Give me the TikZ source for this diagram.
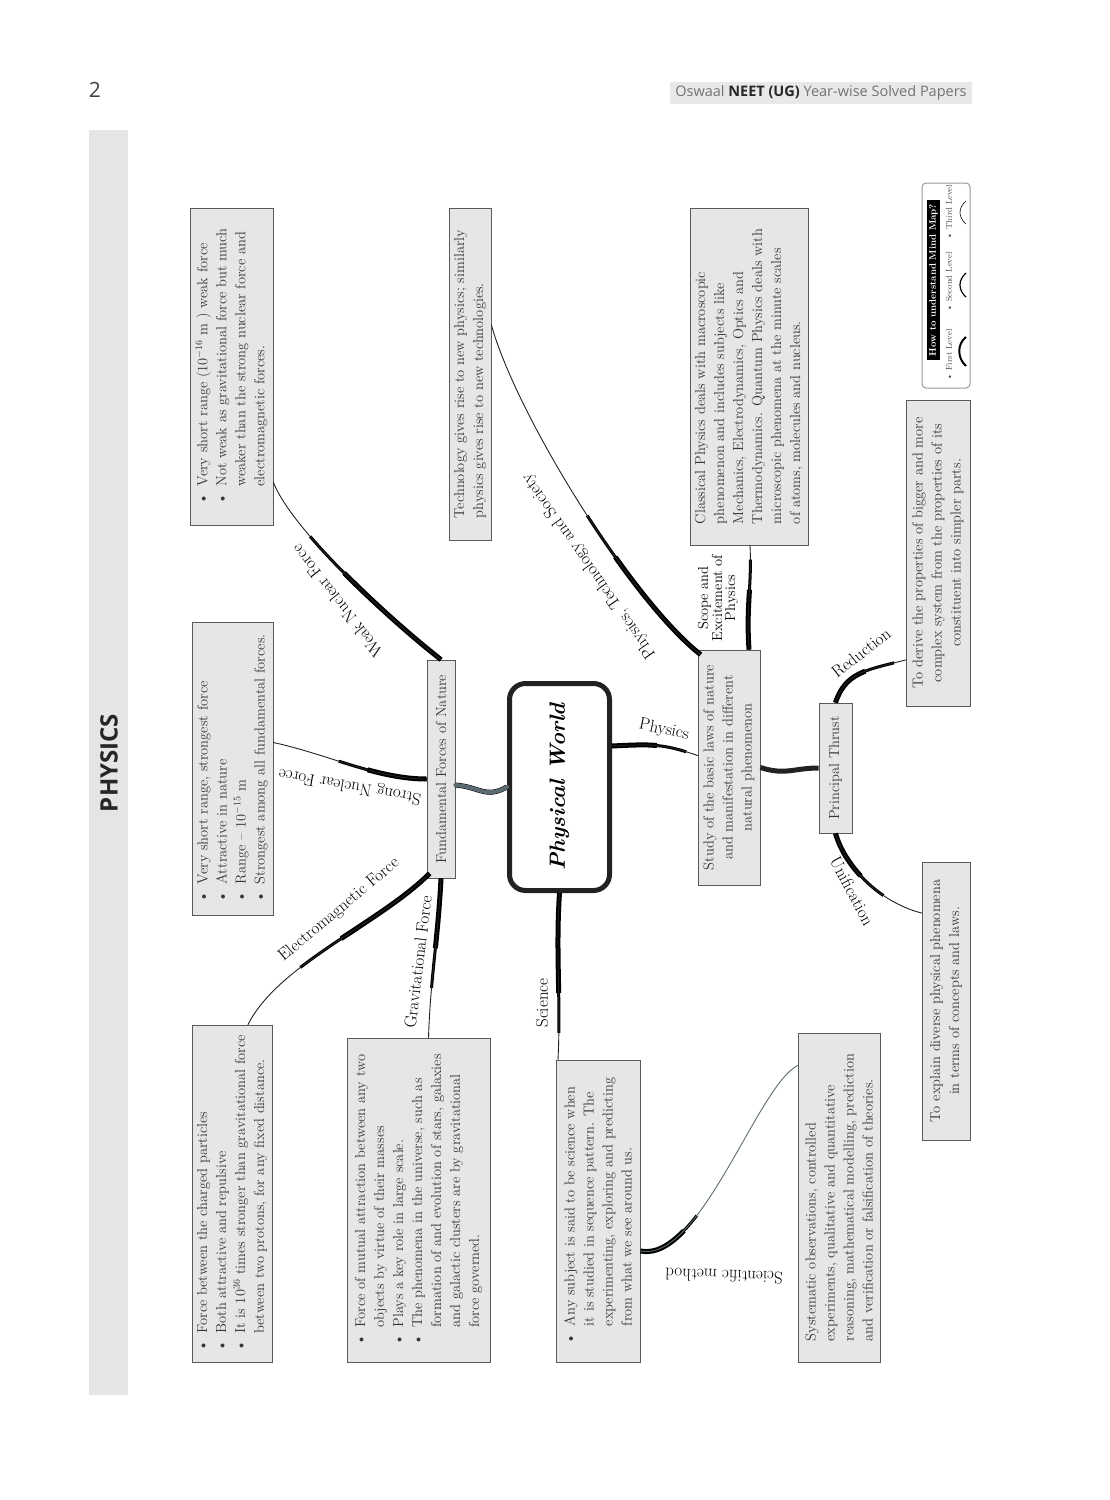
\documentclass[tikz,border=0pt]{standalone}
\usepackage{fontspec}
\usepackage{tikz}
\usetikzlibrary{calc}

\newfontfamily\hdrfont{Open Sans}
\definecolor{boxgray}{HTML}{E6E6E6}
\definecolor{edgegray}{HTML}{5A5A5A}
\definecolor{inkgray}{HTML}{363636}
\definecolor{slate}{HTML}{5B6B72}
\definecolor{branch}{HTML}{222222}
\newcommand{\boxfont}{\fontsize{14.5}{19}\selectfont}
\newcommand{\lblfont}{\fontsize{17}{19}\selectfont}
\newcommand{\itm}{\textbullet\enspace}
\newcommand{\itmind}{\hphantom{\textbullet\enspace}}

\tikzset{
  leaf/.style={draw=edgegray, fill=boxgray, text=inkgray, rotate=90, font=\boxfont,
    line width=0.8pt, inner xsep=5pt, inner ysep=2pt, align=left},
  tag/.style={font=\lblfont, inner sep=1pt},
  limb/.style 2 args={line width=0.9pt, line cap=round,
    preaction={draw, line width=5pt, dash pattern=on #1 off 3000pt},
    preaction={draw, line width=3pt, dash pattern=on #2 off 3000pt}},
}

\begin{document}
\begin{tikzpicture}[x=1pt, y=-1pt]
    \useasboundingbox (0,0) rectangle (1109,1500);

    % page furniture
    \node[font=\hdrfont\fontsize{21}{24}\selectfont, text=black!75] (pageno) at (95,90) {2};
    \node[fill=black!9, font=\hdrfont\fontsize{14.5}{17}\selectfont, text=black!55,
          minimum width=302pt, minimum height=22pt, inner sep=0pt] (runhead) at (821,93)
          {Oswaal \textcolor{black!85}{\bfseries NEET (UG)} Year-wise Solved Papers};
    \fill[black!10] (89,130) rectangle (128,1395);
    \node[rotate=90, font=\hdrfont\bfseries\fontsize{24}{27}\selectfont, text=black!85] (subject) at (109,763) {PHYSICS};

    % legend
    \node[draw=black!40, line width=1pt, rounded corners=4pt, fill=white,
          minimum width=48pt, minimum height=205pt, inner sep=0pt] (legend) at (946,285.5) {};
    \node[rotate=90, fill=black, text=white, font=\bfseries\fontsize{9.5}{11}\selectfont,
          minimum width=160pt, minimum height=13pt, inner sep=1pt] (legendhead) at (933.5,280) {How to understand Mind Map?};
    \node[rotate=90, font=\fontsize{8.5}{10}\selectfont, text=black!70] (lvlone) at (949,355) {\textbullet\ First Level};
    \node[rotate=90, font=\fontsize{8.5}{10}\selectfont, text=black!70] (lvltwo) at (949,282) {\textbullet\ Second Level};
    \node[rotate=90, font=\fontsize{8.5}{10}\selectfont, text=black!70] (lvlthree) at (949,212) {\textbullet\ Third Level};
    \draw[line width=2pt] (966,366) .. controls (957,358) and (957,344) .. (966,337);
    \draw[line width=1.2pt] (966,297) .. controls (958,290) and (958,280) .. (966,273);
    \draw[line width=0.6pt] (966,224) .. controls (958,217) and (958,208) .. (966,201);

    % centre and second level
    \node[rotate=90, draw=branch, line width=5pt, rounded corners=16pt, fill=white,
          minimum width=207pt, minimum height=100pt,
          font=\bfseries\itshape\fontsize{22}{26}\selectfont] (world) at (559.5,787) {Physical World};
    \node[leaf, minimum width=218pt, minimum height=28pt, inner ysep=0pt] (forces) at (441,769) {Fundamental Forces of Nature};
    \node[leaf, align=center, minimum width=235pt, minimum height=62pt] (study) at (729,767.5)
        {Study of the basic laws of nature\\and manifestation in different\\natural phenomenon};
    \node[leaf, minimum width=130pt, minimum height=33pt] (thrust) at (835.5,768) {Principal Thrust};

    % leaves
    \node[leaf, minimum width=317pt, minimum height=83pt] (weak) at (231.5,366.5)
        {\itm Very short range ($10^{-16}$ m ) weak force\\
         \itm Not weak as gravitational force but much\\
         \itmind weaker than the strong nuclear force and\\
         \itmind electromagnetic forces.};
    \node[leaf, minimum width=293pt, minimum height=81pt] (strong) at (232.5,768.5)
        {\itm Very short range, strongest force\\
         \itm Attractive in nature\\
         \itm Range -- $10^{-15}$ m\\
         \itm Strongest among all fundamental forces.};
    \node[leaf, minimum width=337pt, minimum height=80pt] (em) at (232,1193.5)
        {\itm Force between the charged particles\\
         \itm Both attractive and repulsive\\
         \itm It is $10^{36}$ times stronger than gravitational force\\
         \itmind between two protons, for any fixed distance.};
    \node[leaf, minimum width=324pt, minimum height=143pt] (grav) at (418.5,1200)
        {\itm Force of mutual attraction between any two\\
         \itmind objects by virtue of their masses\\
         \itm Plays a key role in large scale.\\
         \itm The phenomena in the universe, such as\\
         \itmind formation of and evolution of stars, galaxies\\
         \itmind and galactic clusters are by gravitational\\
         \itmind force governed.};
    \node[leaf, minimum width=302pt, minimum height=84pt] (science) at (598,1211)
        {\itm Any subject is said to be science when\\
         \itmind it is studied in sequence pattern. The\\
         \itmind experimenting, exploring and predicting\\
         \itmind from what we see around us.};
    \node[leaf, minimum width=329pt, minimum height=82pt] (method) at (839,1197.5)
        {Systematic observations, controlled\\
         experiments, qualitative and quantitative\\
         reasoning, mathematical modelling, prediction\\
         and verification or falsification of theories.};
    \node[leaf, minimum width=332pt, minimum height=42pt] (tech) at (470,374)
        {Technology gives rise to new physics; similarly\\
         physics gives rise to new technologies.};
    \node[leaf, minimum width=337pt, minimum height=118pt] (scope) at (749,376.5)
        {Classical Physics deals with macroscopic\\
         phenomenon and includes subjects like\\
         Mechanics, Electrodynamics, Optics and\\
         Thermodynamics. Quantum Physics deals with\\
         microscopic phenomena at the minute scales\\
         of atoms, molecules and nucleus.};
    \node[leaf, align=center, minimum width=306pt, minimum height=64pt] (reduce) at (938,553)
        {To derive the properties of bigger and more\\
         complex system from the properties of its\\
         constituent into simpler parts.};
    \node[leaf, align=center, minimum width=278pt, minimum height=48pt] (unify) at (946,1001)
        {To explain diverse physical phenomena\\
         in terms of concepts and laws.};

    % branches from the centre
    \draw[slate, limb={60pt}{60pt}, line width=4pt] (world.north) .. controls +(-22,12) and +(25,2) .. ($(forces.south)+(0,16)$);
    \draw[branch, limb={45pt}{75pt}] ($(world.south)+(0,-41)$) .. controls +(40,-2) and +(-35,-12) .. ($(study.north)+(0,-12)$);
    \node[tag, rotate=-12] (lblPhysics) at (664,730) {Physics};
    \draw[branch, limb={100pt}{140pt}] (world.west) .. controls +(-4,60) and +(3,-60) .. ($(science.east)+(-40,0)$);
    \node[tag, rotate=90] (lblScience) at (542,1003) {Science};

    % study side
    \draw[branch, line width=5pt] (study.south) .. controls +(25,8) and +(-25,0) .. (thrust.north);
    \draw[branch, limb={45pt}{75pt}] (thrust.east) .. controls +(10,-30) and +(-40,10) .. ($(reduce.north)+(0,107)$);
    \node[tag, rotate=38] (lblReduce) at (861,653) {Reduction};
    \draw[branch, limb={50pt}{80pt}] (thrust.west) .. controls +(10,35) and +(-40,-10) .. ($(unify.north)+(0,-88)$);
    \node[tag, rotate=-62] (lblUnify) at (852,891) {Unification};
    \draw[branch, limb={60pt}{90pt}] ($(study.east)+(20,0)$) .. controls +(-3,-45) and +(2,40) .. ($(scope.west)+(1,0)$);
    \node[tag, rotate=90, align=center, font=\fontsize{14.5}{13}\selectfont] (lblScope) at (718,598) {Scope and\\Excitement of\\Physics};
    \draw[branch, limb={130pt}{180pt}] ($(study.north east)+(3,5)$) .. controls +(-70,-55) and +(25,90) .. ($(tech.south)+(0,-49)$);
    \node[tag, rotate=125] (lblTech) at (589,566) {Physics, Technology and Society};

    % forces side
    \draw[branch, limb={130pt}{180pt}] (forces.east) .. controls +(-45,-35) and +(20,50) .. ($(weak.south)+(0,116)$);
    \node[tag, rotate=128] (lblWeak) at (337,601) {Weak Nuclear Force};
    \draw[branch, limb={60pt}{90pt}] ($(forces.north)+(0,10)$) .. controls +(-50,0) and +(55,12) .. ($(strong.south)+(0,-26)$);
    \node[tag, rotate=170] (lblStrong) at (350,786) {Strong Nuclear Force};
    \draw[branch, limb={110pt}{160pt}] ($(forces.north west)+(3,-5)$) .. controls +(-50,50) and +(30,-60) .. ($(em.east)+(16,0)$);
    \node[tag, rotate=40] (lblEM) at (339,910) {Electromagnetic Force};
    \draw[branch, limb={70pt}{110pt}] (forces.west) .. controls +(-3,60) and +(2,-60) .. ($(grav.east)+(10,0)$);
    \node[tag, rotate=83] (lblGrav) at (418,962) {Gravitational Force};

    % science side
    \draw[slate, limb={50pt}{70pt}] ($(science.south)+(0,40)$) .. controls +(60,12) and +(-40,20) .. ($(method.north)+(0,-132)$);
    \node[tag, rotate=178] (lblMethod) at (724,1276) {Scientific method};
\end{tikzpicture}
\end{document}
